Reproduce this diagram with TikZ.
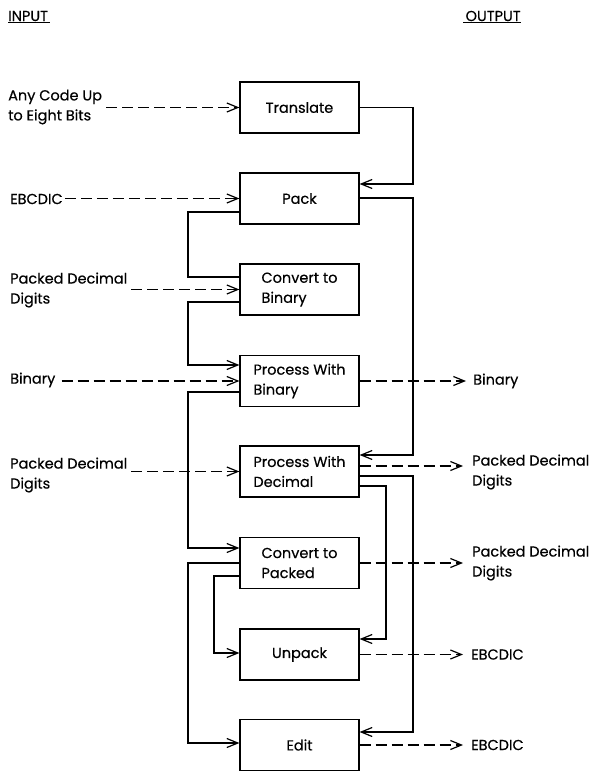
\documentclass[tikz,border=0pt]{standalone}
\usepackage{fontspec}
\setmainfont{Poppins}[FakeBold=0.4]
\usetikzlibrary{arrows.meta,calc}
\begin{document}
\begin{tikzpicture}[x=1pt,y=-1pt,
  txt/.style={font=\fontsize{14.5}{20}\selectfont},
  box/.style={draw,line width=1.2pt,minimum width=119pt,minimum height=51pt,inner sep=0pt,align=left,txt},
  lbl/.style={anchor=west,align=left,inner sep=0pt,txt},
  flow/.style={line width=1.2pt,-{Straight Barb[length=11pt,width=9pt]}},
  dflow/.style={flow,dash pattern=on 11pt off 5pt},
  plain/.style={line width=1.2pt}]
\useasboundingbox (0,0) rectangle (592,773);

% headers
\node[lbl] (hin) at (8,17) {\underline{INPUT\,}};
\node[lbl] (hout) at (463,17) {\underline{\,OUTPUT}};

% boxes
\node[box] (tr) at (299.5,107.5) {Translate};
\node[box] (pk) at (299.5,198.5) {Pack};
\node[box] (cb) at (299.5,289.5) {Convert to\\Binary};
\node[box] (pb) at (299.5,381) {Process With\\Binary};
\node[box] (pd) at (299.5,471.5) {Process With\\Decimal};
\node[box] (cp) at (299.5,563) {Convert to\\Packed};
\node[box] (up) at (299.5,654.5) {Unpack};
\node[box] (ed) at (299.5,745) {Edit};

% input labels
\node[lbl] (i1) at (8,107) {Any Code Up\\to Eight Bits};
\node[lbl] (i2) at (10,199) {EBCDIC};
\node[lbl] (i3) at (10,290) {Packed Decimal\\Digits};
\node[lbl] (i4) at (10,380) {Binary};
\node[lbl] (i5) at (10,475) {Packed Decimal\\Digits};

% output labels
\node[lbl] (o1) at (473,381) {Binary};
\node[lbl] (o2) at (472,472) {Packed Decimal\\Digits};
\node[lbl] (o3) at (472,563) {Packed Decimal\\Digits};
\node[lbl] (o4) at (471,654.5) {EBCDIC};
\node[lbl] (o5) at (471,745) {EBCDIC};

% dashed inputs
\draw[dflow] ([xshift=4pt]i1.east |- tr.west) -- (tr.west);
\draw[dflow] ([xshift=2pt]i2.east |- pk.west) -- (pk.west);
\draw[dflow] ([xshift=4pt]i3.east |- cb.west) -- (cb.west);
\draw[dflow] ([xshift=6pt]i4.east |- pb.west) -- (pb.west);
\draw[dflow] ([xshift=4pt]i5.east |- pd.west) -- (pd.west);

% dashed outputs
\draw[dflow] (pb.east) -- ([xshift=-7pt]o1.west |- pb.east);
\draw[dflow] (pd.east |- 0,466) -- ([xshift=-9pt]o2.west |- 0,466);
\draw[dflow] (cp.east) -- ([xshift=-9pt]o3.west |- cp.east);
\draw[dflow] (up.east) -- ([xshift=-8pt]o4.west |- up.east);
\draw[dflow] (ed.east) -- ([xshift=-8pt]o5.west |- ed.east);

% solid connectors
\coordinate (r1) at (413,0);
\coordinate (r2) at (386,0);
\coordinate (l1) at (188,0);
\coordinate (l2) at (214,0);

\draw[flow] (tr.east) -| (r1 |- 0,184) -- (pk.east |- 0,184);
\draw[flow] (pk.east |- 0,198) -| (r1 |- 0,455) -- (pd.east |- 0,455);
\draw[plain] (pk.west |- 0,212) -| (l1 |- 0,277) -- (cb.west |- 0,277);
\draw[flow] (cb.west |- 0,302) -| (l1 |- 0,365) -- (pb.west |- 0,365);
\draw[flow] (pb.west |- 0,392) -| (l1 |- 0,548) -- (cp.west |- 0,548);
\draw[flow] (pd.east |- 0,476) -| (r1 |- 0,732) -- (ed.east |- 0,732);
\draw[flow] (pd.east |- 0,486) -| (r2 |- 0,639) -- (up.east |- 0,639);
\draw[flow] (cp.west |- 0,563) -| (l1 |- 0,743) -- (ed.west |- 0,743);
\draw[flow] (cp.west |- 0,576) -| (l2 |- 0,653) -- (up.west |- 0,653);
\end{tikzpicture}
\end{document}
